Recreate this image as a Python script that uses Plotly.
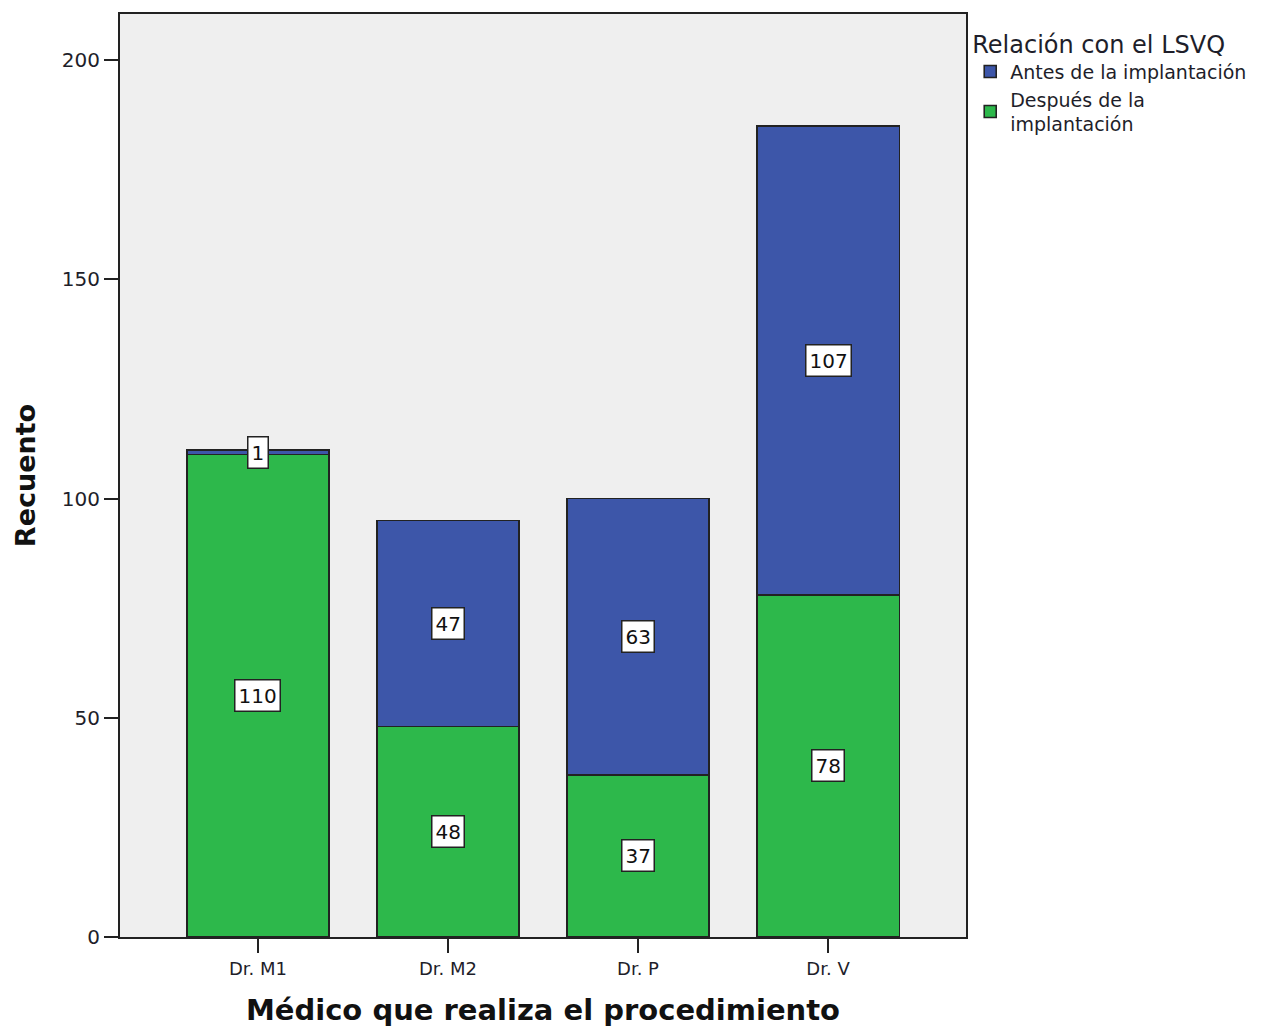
import plotly.graph_objects as go

categories = ["Dr. M1", "Dr. M2", "Dr. P", "Dr. V"]
despues = [110, 48, 37, 78]
antes = [1, 47, 63, 107]
series_names = ["Antes de la implantación", "Después de la<br>implantación"]

BLUE = "#3d56a9"
GREEN = "#2db84b"
FONT = "DejaVu Sans"
INK = "#1e1e2a"

fig = go.Figure()
fig.add_trace(go.Bar(x=categories, y=despues, name=series_names[1],
                     marker=dict(color=GREEN, line=dict(color="#222", width=1.6)),
                     width=0.75, legendrank=2))
fig.add_trace(go.Bar(x=categories, y=antes, name=series_names[0],
                     marker=dict(color=BLUE, line=dict(color="#222", width=1.6)),
                     width=0.75, legendrank=1))

for c, d, a in zip(categories, despues, antes):
    for val, mid in ((d, d / 2), (a, d + a / 2)):
        fig.add_annotation(x=c, y=mid, text=str(val), showarrow=False,
                           bgcolor="white", bordercolor="#222", borderwidth=1.5, borderpad=3,
                           font=dict(family=FONT, size=20, color="#111"))

fig.update_layout(
    barmode="stack",
    width=1264, height=1029,
    margin=dict(l=120, r=298, t=14, b=92),
    paper_bgcolor="white", plot_bgcolor="#efefef",
    font=dict(family=FONT, color=INK),
    showlegend=True,
    legend=dict(x=1.005, y=0.992, xanchor="left", yanchor="top",
                bgcolor="rgba(0,0,0,0)",
                title=dict(text="Relación con el LSVQ", font=dict(size=24, color=INK)),
                font=dict(size=19, color=INK), traceorder="normal",
                itemwidth=30, tracegroupgap=0),
    xaxis=dict(range=[-0.726, 3.726], showline=True, linecolor="#222", linewidth=2, mirror=True,
               ticks="outside", ticklen=14, tickcolor="#222", tickwidth=2,
               tickfont=dict(size=18, color=INK), automargin=False,
               title=dict(text="<b>Médico que realiza el procedimiento</b>",
                          font=dict(size=29, color="#111"), standoff=22)),
    yaxis=dict(range=[0, 210.5], showline=True, linecolor="#222", linewidth=2, mirror=True,
               ticks="outside", ticklen=14, tickcolor="#222", tickwidth=2,
               tickvals=[0, 50, 100, 150, 200], showgrid=False, zeroline=False,
               tickfont=dict(size=20, color=INK), automargin=False,
               title=dict(text="<b>Recuento</b>", font=dict(size=27, color="#111"), standoff=18)),
)

fig.write_html("out.html")
